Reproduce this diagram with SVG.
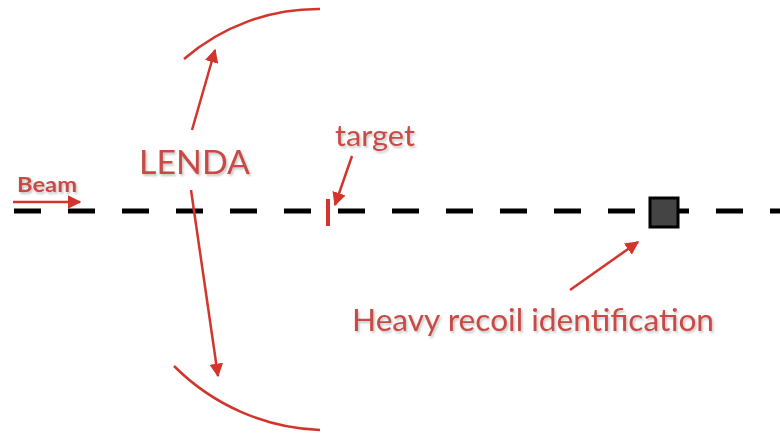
<svg xmlns="http://www.w3.org/2000/svg" width="780" height="434" viewBox="0 0 780 434">
<style>
.lbl{font-family:"Lato","Liberation Sans",sans-serif;fill:#c94a45;}
.arr{stroke:#d1352c;stroke-width:2.5;fill:none;marker-end:url(#ah);}
.arc{stroke:#d1352c;stroke-width:2.5;fill:none;}
</style>
<defs>
<marker id="ah" viewBox="0 0 10 10" refX="9" refY="5" markerWidth="5.5" markerHeight="5.5" orient="auto" markerUnits="strokeWidth">
<path d="M0,0 L10,5 L0,10 Z" fill="#d1352c"/>
</marker>
<filter id="sh" x="-10%" y="-20%" width="120%" height="150%">
<feDropShadow dx="1.5" dy="2" stdDeviation="1.2" flood-color="#888" flood-opacity="0.5"/>
</filter>
</defs>
<rect width="780" height="434" fill="#fff"/>
<g id="beamline">
<line x1="14" y1="211" x2="780" y2="211" stroke="#000" stroke-width="5" stroke-dasharray="27 27"/>
</g>
<g id="lenda-top"><path class="arc" d="M184,59 A205,205 0 0 1 320,9"/></g>
<g id="lenda-bottom"><path class="arc" d="M174,366 A218,218 0 0 0 320,430"/></g>
<g id="target"><line x1="328" y1="199" x2="328" y2="226" stroke="#d1352c" stroke-width="4"/></g>
<g id="recoil"><rect x="650" y="198" width="28" height="29" fill="#444" stroke="#000" stroke-width="3"/></g>
<g id="connectors">
<line class="arr" x1="13" y1="202" x2="80" y2="202"/>
<line class="arr" x1="192" y1="130" x2="215" y2="50"/>
<line class="arr" x1="191" y1="190" x2="218" y2="376"/>
<line class="arr" x1="352" y1="156" x2="335" y2="205"/>
<line class="arr" x1="570" y1="290" x2="638" y2="242"/>
</g>
<g id="labels" filter="url(#sh)">
<text class="lbl" x="17" y="192" font-size="20" font-weight="bold" textLength="60" lengthAdjust="spacingAndGlyphs">Beam</text>
<text class="lbl" x="139" y="174" font-size="32" textLength="111" lengthAdjust="spacingAndGlyphs">LENDA</text>
<text class="lbl" x="335" y="146" font-size="28" textLength="80" lengthAdjust="spacingAndGlyphs">target</text>
<text class="lbl" x="352" y="331" font-size="30" textLength="362" lengthAdjust="spacingAndGlyphs">Heavy recoil identification</text>
</g>
</svg>
